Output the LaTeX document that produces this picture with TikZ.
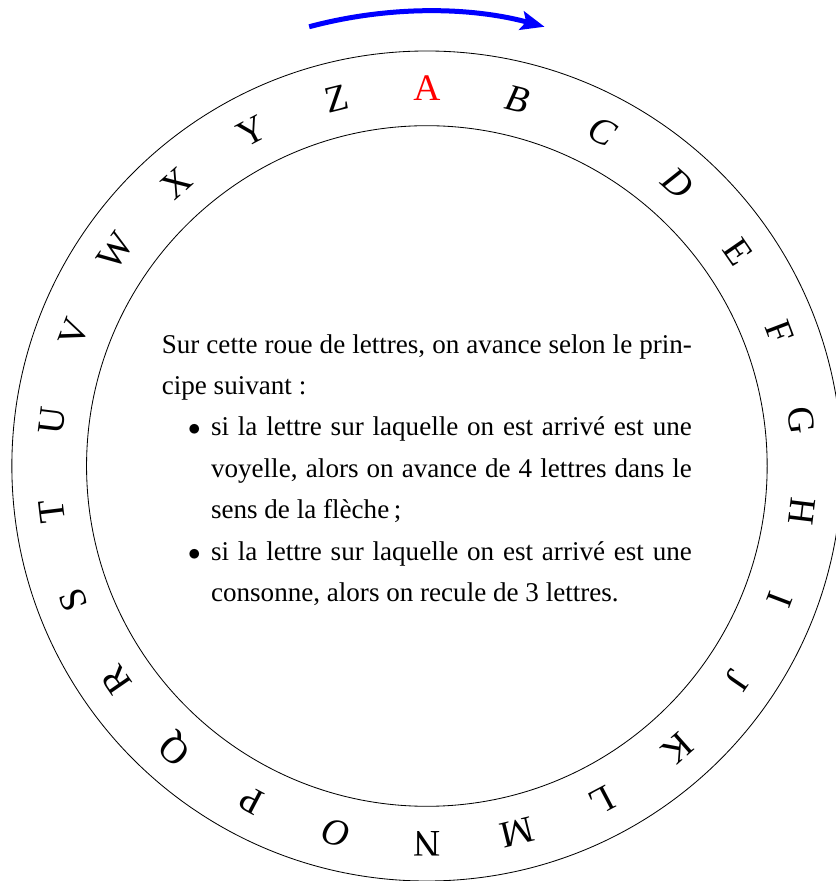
\documentclass[tikz,border=0pt]{standalone}
\usepackage{fontspec}
\setmainfont{Liberation Serif}
\usepackage{enumitem}
\usetikzlibrary{arrows.meta}

\begin{document}
\begin{tikzpicture}[lettre/.style={font=\fontsize{18}{20}\selectfont,inner sep=0pt}]
	\def \Rext {7}%rayon exterieur
	\def \Rint {5.74}%rayon interieur
	\def \Rlet {6.37}%rayon des lettres
	\useasboundingbox (-7.2,-7.0) rectangle (6.9,7.86);
	% roue
	\draw (0,0) circle (\Rext);
	\draw (0,0) circle (\Rint);
	% sens de rotation
	\draw[-{Stealth[length=4mm,width=3.2mm,inset=0.8mm]},blue,line width=2.4pt] (105:7.67) arc (105:75:7.67);
	% lettres
	\node[lettre,red] (lettre0) at (90:\Rlet) {A};
	\foreach \l [count=\i from 1] in {\textit{B},\textit{C},\textit{D},E,F,G,H,I,J,K,L,M,N,\textit{O},P,Q,R,S,T,U,V,W,X,Y,Z}{
		\node[lettre,rotate={-\i*360/26}] (lettre\i) at ({90-\i*360/26}:\Rlet) {\l};
		}
	% regle
	\node[text width=8.94cm,align=justify,font=\fontsize{13}{19.9}\selectfont] (regle) at (0,-0.07) {%
		Sur cette roue de lettres, on avance selon le prin-\linebreak cipe suivant~:
		\begin{itemize}[nosep,leftmargin=0.83cm,label=$\bullet$]
			\item si la lettre sur laquelle on est arrivé est une\linebreak voyelle, alors on avance de 4 lettres dans le\linebreak sens de la flèche\,;
			\item si la lettre sur laquelle on est arrivé est une\linebreak consonne, alors on recule de 3 lettres.
		\end{itemize}};
\end{tikzpicture}
\end{document}
